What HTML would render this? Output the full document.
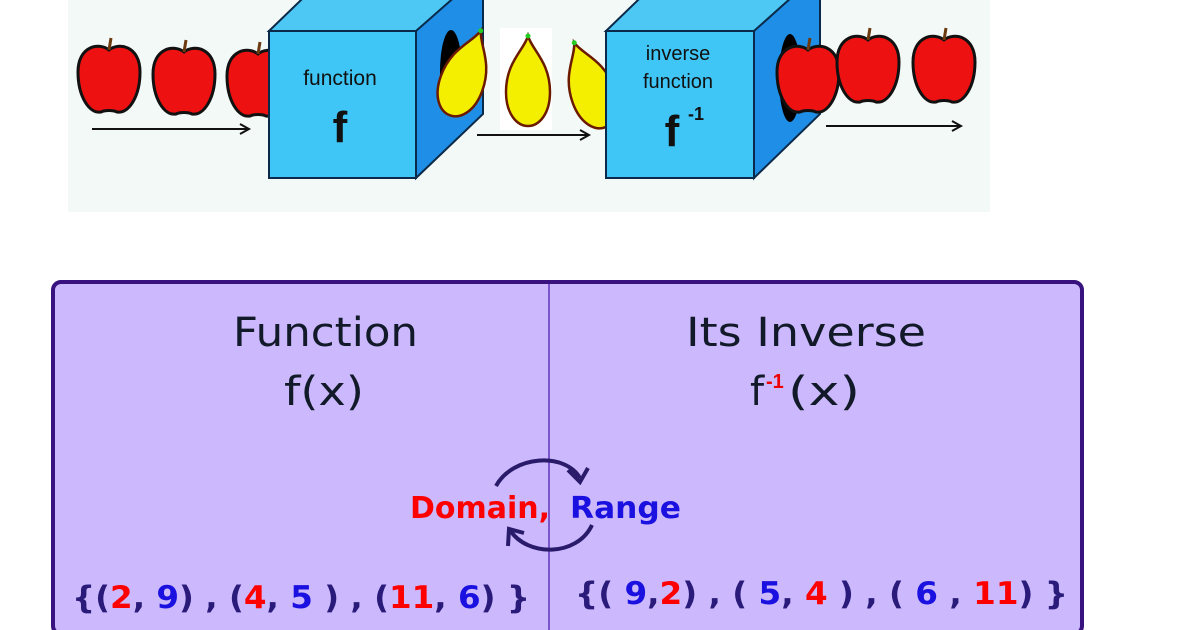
<!DOCTYPE html>
<html><head><style>
html,body{margin:0;padding:0;background:#fff;width:1200px;height:630px;overflow:hidden}
svg{display:block}
</style></head><body>
<svg width="1200" height="630" viewBox="0 0 1200 630" xmlns="http://www.w3.org/2000/svg" font-family="Liberation Sans, sans-serif">
<rect x="68" y="0" width="922" height="212" fill="#f3f9f6"/>
<defs>
<g id="apple">
<path d="M0,-30 C-10,-38 -31,-34 -31,-8 C-31,16 -20,34 -8,32 C-4,30 4,30 8,32 C20,34 31,16 31,-8 C31,-34 10,-38 0,-30 Z" fill="#ee1111" stroke="#111" stroke-width="3"/>
<path d="M0,-30 L2,-42" stroke="#6b3a10" stroke-width="3"/>
</g>
<g id="lemon">
<path d="M0,-46 C4,-32 22,-20 22,10 C22,32 11,44 0,44 C-11,44 -22,32 -22,10 C-22,-20 -4,-32 0,-46 Z" fill="#f4ef00" stroke="#6b1a00" stroke-width="2.5"/>
<circle cx="0" cy="-46" r="2.5" fill="#2c2"/>
</g>
</defs>
<use href="#apple" x="109" y="80"/>
<use href="#apple" x="184" y="82"/>
<use href="#apple" x="258" y="84"/>
<g stroke="#111" stroke-width="2" fill="none">
<line x1="92" y1="129" x2="248" y2="129"/><path d="M240,124 L249,129 L240,134"/>
<line x1="477" y1="135" x2="588" y2="135"/><path d="M580,130 L589,135 L580,140"/>
<line x1="826" y1="126" x2="960" y2="126"/><path d="M952,121 L961,126 L952,131"/>
</g>
<polygon points="269,31 330,-28 490,-28 416,31" fill="#4dc8f5" stroke="#0b2a4a" stroke-width="2"/>
<polygon points="416,31 483,-28 483,114 416,178" fill="#1f8ee6" stroke="#0b2a4a" stroke-width="2"/>
<ellipse cx="451" cy="72" rx="11" ry="42" fill="#000"/>
<rect x="269" y="31" width="147" height="147" fill="#3fc6f7" stroke="#0b2a4a" stroke-width="2"/>
<text x="340" y="85" font-size="21" text-anchor="middle" fill="#111">function</text>
<text x="340" y="142" font-size="44" font-weight="bold" text-anchor="middle" fill="#111">f</text>
<use href="#lemon" x="465" y="74" transform="rotate(20 465 74)"/>
<rect x="500" y="28" width="52" height="102" fill="#fff"/>
<use href="#lemon" x="528" y="82"/>
<use href="#lemon" x="590" y="86" transform="rotate(-20 590 86)"/>
<polygon points="606,31 667,-28 830,-28 754,31" fill="#4dc8f5" stroke="#0b2a4a" stroke-width="2"/>
<polygon points="754,31 820,-28 820,114 754,178" fill="#1f8ee6" stroke="#0b2a4a" stroke-width="2"/>
<ellipse cx="790" cy="78" rx="11" ry="44" fill="#000"/>
<rect x="606" y="31" width="148" height="147" fill="#3fc6f7" stroke="#0b2a4a" stroke-width="2"/>
<text x="678" y="60" font-size="20" text-anchor="middle" fill="#111">inverse</text>
<text x="678" y="88" font-size="20" text-anchor="middle" fill="#111">function</text>
<text x="672" y="146" font-size="44" font-weight="bold" text-anchor="middle" fill="#111">f</text>
<text x="688" y="120" font-size="18" font-weight="bold" fill="#111">-1</text>
<use href="#apple" x="808" y="80"/>
<use href="#apple" x="868" y="70"/>
<use href="#apple" x="944" y="70"/>
<rect x="53" y="282" width="1029" height="352" rx="8" fill="#cbb8fd" stroke="#38127e" stroke-width="4"/>
<line x1="549" y1="284" x2="549" y2="630" stroke="#7a55cc" stroke-width="2"/>
<g font-family="DejaVu Sans, sans-serif" fill="#121a2a" font-size="40">
<text x="233" y="346" textLength="185" lengthAdjust="spacingAndGlyphs">Function</text>
<text x="284" y="405" textLength="80" lengthAdjust="spacingAndGlyphs">f(x)</text>
<text x="686" y="346" textLength="240" lengthAdjust="spacingAndGlyphs">Its Inverse</text>
<text x="750" y="405">f</text>
<text x="788" y="405" textLength="72" lengthAdjust="spacingAndGlyphs">(x)</text>
</g>
<text x="766" y="388" font-size="20" font-weight="bold" fill="#e00">-1</text>
<g stroke="#2a1a6a" stroke-width="4" fill="none">
<path d="M496,486 C513,455 565,452 580,478"/><path d="M568,470 L580,482 L588,468"/>
<path d="M592,525 C577,557 527,557 510,530"/><path d="M508,546 L509,529 L524,533"/>
</g>
<text x="410" y="518" font-size="30" font-weight="bold" fill="#f00" font-family="DejaVu Sans, sans-serif">Domain,</text>
<text x="570" y="518" font-size="30" font-weight="bold" fill="#1a10e0" font-family="DejaVu Sans, sans-serif" textLength="111" lengthAdjust="spacingAndGlyphs">Range</text>
<g font-size="31" font-weight="bold" font-family="DejaVu Sans, sans-serif" fill="#2a1a7a">
<text x="72" y="608" textLength="458" lengthAdjust="spacingAndGlyphs">{(<tspan fill="#f00">2</tspan>, <tspan fill="#1a10e0">9</tspan>) , (<tspan fill="#f00">4</tspan>, <tspan fill="#1a10e0">5</tspan> ) , (<tspan fill="#f00">11</tspan>, <tspan fill="#1a10e0">6</tspan>) }</text>
<text x="575" y="604" textLength="493" lengthAdjust="spacingAndGlyphs">{( <tspan fill="#1a10e0">9</tspan>,<tspan fill="#f00">2</tspan>) , ( <tspan fill="#1a10e0">5</tspan>, <tspan fill="#f00">4</tspan> ) , ( <tspan fill="#1a10e0">6</tspan> , <tspan fill="#f00">11</tspan>) }</text>
</g>
</svg>
</body></html>
